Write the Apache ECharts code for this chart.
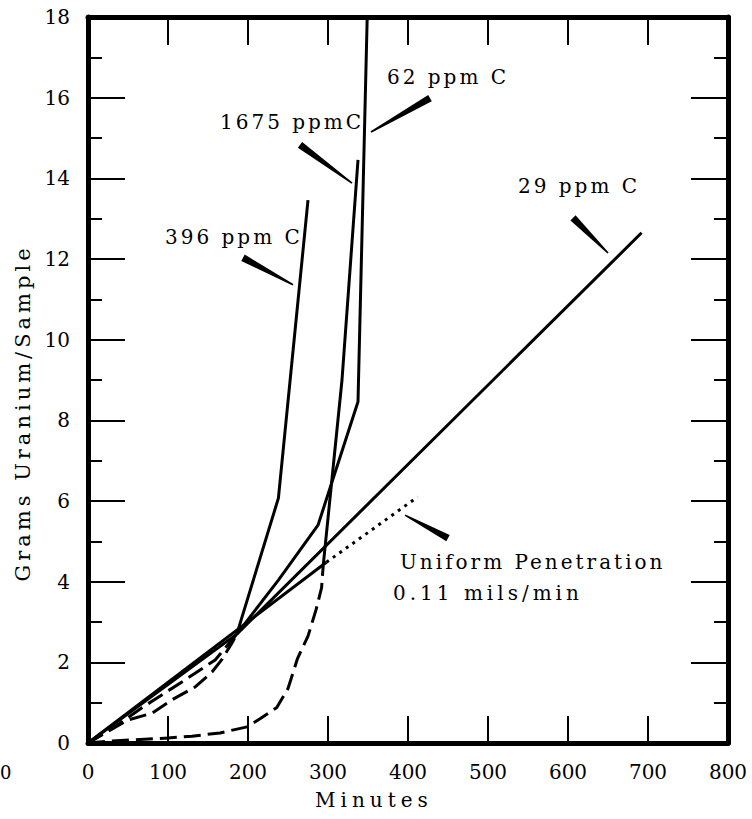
<!DOCTYPE html>
<html><head><meta charset="utf-8">
<script src="https://cdn.jsdelivr.net/npm/echarts@6/dist/echarts.min.js"></script>
<style>html,body{margin:0;padding:0;background:#fff}#c{width:752px;height:819px}</style>
</head><body><div id="c"></div>
<script>
// ---- axes ----
const xTicks = [0, 100, 200, 300, 400, 500, 600, 700, 800];
const yTicks = [0, 2, 4, 6, 8, 10, 12, 14, 16, 18];
const xName = 'Minutes';
const yName = 'Grams Uranium/Sample';

// ---- series (minutes, grams) ----
const ppm29 = [[0, 0], [186, 2.7], [692, 12.65]];
const ppm62Early = [[0, 0], [37, 0.45], [67, 0.87], [121, 1.56], [159, 2.06], [186, 2.7]];
const ppm62 = [[186, 2.7], [238, 4.04], [287.5, 5.4], [337.5, 8.46], [349, 18]];
const ppm396Early = [[0, 0], [50, 0.57], [80, 0.74], [105, 1.07], [134, 1.39], [155, 1.76], [167, 2.06], [180, 2.48], [186, 2.7]];
const ppm396 = [[186, 2.7], [238, 6.07], [275, 13.46]];
const ppm1675Early = [[0, 0], [30, 0.05], [96, 0.12], [130, 0.17], [165, 0.25], [199, 0.4], [215, 0.6], [236, 0.88], [250, 1.35], [262, 2.1], [275, 2.65], [285, 3.3], [292, 3.85], [294, 4.4]];
const ppm1675 = [[294, 4.4], [317.5, 9.0], [337.5, 14.46]];
const uniformSolid = [[0, 0], [298, 4.48]];
const uniformDotted = [[298, 4.48], [412, 6.1]];

// ---- annotations (data coordinates) ----
const labelTexts = ['62 ppm C', '1675 ppmC', '396 ppm C', '29 ppm C', 'Uniform Penetration', '0.11 mils/min'];
const labelAnchors = [[373.75, 16.51], [165, 15.40], [96.25, 12.55], [537.5, 13.81], [390, 4.49], [381.25, 3.72]];
const pointerFrom = [[427.5, 15.99], [265, 14.83], [193.75, 12.03], [606.25, 13.02], [450, 5.08]];
const pointerTo = [[353.75, 15.15], [330, 13.88], [256.25, 11.36], [650, 12.15], [396.25, 5.65]];

const FONT = 'DejaVu Serif';
const INK = '#000';
const SOLID = 'solid', DASH = [17, 7], DOT = [3, 5];

const lines = [
  ['29 ppm C', ppm29, SOLID],
  ['62 ppm C early', ppm62Early, DASH],
  ['62 ppm C', ppm62, SOLID],
  ['396 ppm C early', ppm396Early, DASH],
  ['396 ppm C', ppm396, SOLID],
  ['1675 ppmC early', ppm1675Early, DASH],
  ['1675 ppmC', ppm1675, SOLID],
  ['Uniform Penetration', uniformSolid, SOLID],
  ['Uniform Penetration (extrapolated)', uniformDotted, DOT]
];

const chart = echarts.init(document.getElementById('c'), null, {renderer: 'svg', width: 752, height: 819});

const tickStyle = {color: INK, width: 2};
const borderStyle = {color: INK, width: 5};
const xMin = xTicks[0], xMax = xTicks[xTicks.length - 1], xStep = xTicks[1] - xTicks[0];
const yMin = yTicks[0], yMax = yTicks[yTicks.length - 1], yStep = yTicks[1] - yTicks[0];

chart.setOption({
  animation: false,
  backgroundColor: '#fff',
  grid: {left: 88, right: 24, top: 17, bottom: 76},
  xAxis: [
    {type: 'value', min: xMin, max: xMax, interval: xStep, position: 'bottom',
     axisLine: {show: true, onZero: false, lineStyle: borderStyle},
     axisTick: {show: true, inside: true, length: 27, lineStyle: tickStyle},
     axisLabel: {margin: 19, fontFamily: FONT, fontSize: 20, color: INK},
     splitLine: {show: false},
     name: xName, nameLocation: 'middle', nameGap: 47,
     nameTextStyle: {fontFamily: FONT, fontSize: 20, color: INK, padding: [0, 68, 0, 0]}},
    {type: 'value', min: xMin, max: xMax, interval: xStep, position: 'top',
     axisLine: {show: true, onZero: false, lineStyle: borderStyle},
     axisTick: {show: true, inside: true, length: 28, lineStyle: tickStyle},
     axisLabel: {show: false}, splitLine: {show: false}}
  ],
  yAxis: [
    {type: 'value', min: yMin, max: yMax, interval: yStep, position: 'left',
     axisLine: {show: true, onZero: false, lineStyle: borderStyle},
     axisTick: {show: true, inside: true, length: 37, lineStyle: tickStyle},
     minorTick: {show: true, splitNumber: 2, length: 14, lineStyle: tickStyle},
     axisLabel: {margin: 18, fontFamily: FONT, fontSize: 20, color: INK},
     splitLine: {show: false}, minorSplitLine: {show: false},
     name: yName, nameLocation: 'middle', nameGap: 52,
     nameTextStyle: {fontFamily: FONT, fontSize: 21, color: INK, padding: [0, 66, 0, 0]}},
    {type: 'value', min: yMin, max: yMax, interval: yStep, position: 'right',
     axisLine: {show: true, onZero: false, lineStyle: borderStyle},
     axisTick: {show: true, inside: true, length: 37, lineStyle: tickStyle},
     minorTick: {show: true, splitNumber: 2, length: 14, lineStyle: tickStyle},
     axisLabel: {show: false}, splitLine: {show: false}, minorSplitLine: {show: false}}
  ],
  series: lines.map(([name, data, dash]) => ({
    type: 'line', name, data, xAxisIndex: 0, yAxisIndex: 0,
    showSymbol: false, symbol: 'none', silent: true, clip: true,
    lineStyle: {color: INK, width: 3, type: dash, cap: 'butt', join: 'round'}
  }))
});

function px(p) { return chart.convertToPixel({seriesIndex: 0}, p); }

const graphics = [];
labelTexts.forEach((t, i) => {
  const p = px(labelAnchors[i]);
  graphics.push({type: 'text', x: p[0], y: p[1], silent: true,
    style: {text: t, font: '20px "DejaVu Serif"', fill: INK, align: 'left', verticalAlign: 'middle'}});
});
pointerFrom.forEach((a0, i) => {
  const a = px(a0), b = px(pointerTo[i]);
  const dx = b[0] - a[0], dy = b[1] - a[1], L = Math.hypot(dx, dy);
  const nx = -dy / L, ny = dx / L, hw = 3.6, tw = 0.8;
  graphics.push({type: 'polygon', silent: true,
    shape: {points: [[a[0] + nx * hw, a[1] + ny * hw], [b[0] + nx * tw, b[1] + ny * tw],
                     [b[0] - nx * tw, b[1] - ny * tw], [a[0] - nx * hw, a[1] - ny * hw]]},
    style: {fill: INK}});
});
// stray tick label at the far left edge of the scan
graphics.push({type: 'text', x: 0, y: 772, silent: true,
  style: {text: '0', font: '18px "DejaVu Serif"', fill: INK, align: 'left', verticalAlign: 'middle'}});

chart.setOption({graphic: graphics});

const spaced = {'Grams Uranium/Sample': '4px', 'Minutes': '5px', '62 ppm C': '3px', '1675 ppmC': '3px',
  '396 ppm C': '3px', '29 ppm C': '3px', 'Uniform Penetration': '3px', '0.11 mils/min': '4px'};
function applySpacing() {
  document.querySelectorAll('#c svg text').forEach(el => {
    const s = spaced[el.textContent.trim()];
    if (s) el.style.letterSpacing = s;
  });
}
applySpacing();
setTimeout(applySpacing, 50);
</script>
</body></html>
